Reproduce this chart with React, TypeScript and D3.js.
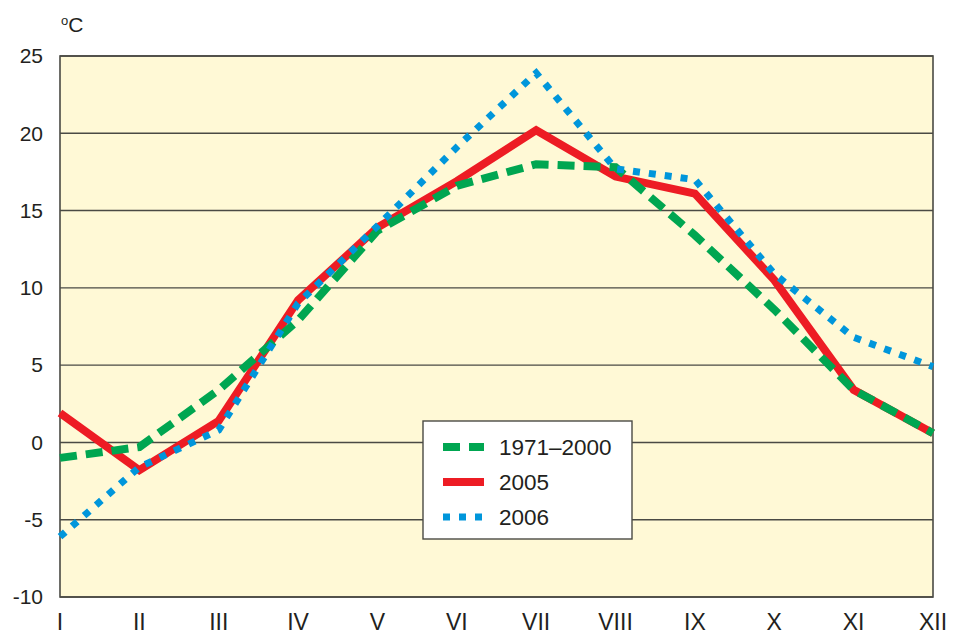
import React from "react";
import * as d3 from "d3";

const months = ["I", "II", "III", "IV", "V", "VI", "VII", "VIII", "IX", "X", "XI", "XII"];
const normal = [-1.0, -0.3, 3.4, 7.9, 13.7, 16.6, 18.0, 17.8, 13.4, 8.6, 3.4, 0.6];
const y2005 = [1.9, -1.8, 1.4, 9.2, 13.9, 16.9, 20.2, 17.2, 16.1, 10.5, 3.4, 0.6];
const y2006 = [-6.1, -1.6, 0.8, 9.0, 14.0, 19.1, 23.9, 17.7, 17.0, 10.9, 6.8, 4.9];
const yTicks = [25, 20, 15, 10, 5, 0, -5, -10];
const seriesNames = ["1971–2000", "2005", "2006"];

const W = 953;
const H = 635;
const left = 60;
const right = 933;
const top = 56;
const bottom = 597;

const font = "'Liberation Sans', Arial, sans-serif";

export default function App() {
  const x = d3.scalePoint<string>().domain(months).range([left, right]);
  const y = d3.scaleLinear().domain([-10, 25]).range([bottom, top]);

  const line = d3
    .line<number>()
    .x((_, i) => x(months[i]) as number)
    .y((d) => y(d));

  // red first, then green dashes, then blue dots on top
  const series = [
    { name: seriesNames[1], data: y2005, color: "#ed1c24", width: 8, dash: "none" },
    { name: seriesNames[0], data: normal, color: "#00a651", width: 8, dash: "17 9" },
    { name: seriesNames[2], data: y2006, color: "#0096db", width: 7, dash: "7 9" },
  ];
  const legendOrder = [series[1], series[0], series[2]];

  return (
    <div style={{ position: "absolute", left: 0, top: 0 }}>
      <svg width={W} height={H} style={{ display: "block", fontFamily: font }}>
        <rect x={0} y={0} width={W} height={H} fill="#ffffff" />
        <rect x={left} y={top} width={right - left} height={bottom - top} fill="#fff9d6" />

        {yTicks.map((t) => (
          <g key={t}>
            <line x1={left} x2={right} y1={y(t)} y2={y(t)} stroke="#4a4a44" strokeWidth={1.4} />
            <text x={43} y={y(t)} dy="0.35em" textAnchor="end" fontSize={21} fill="#231f20">
              {t}
            </text>
          </g>
        ))}

        <rect
          x={left}
          y={top}
          width={right - left}
          height={bottom - top}
          fill="none"
          stroke="#4a4a44"
          strokeWidth={1.6}
        />

        <text x={61} y={32} fontSize={21} fill="#231f20">
          <tspan fontSize={13} dy={-7}>o</tspan>
          <tspan dy={7}>C</tspan>
        </text>

        {months.map((m) => (
          <text
            key={m}
            x={x(m) as number}
            y={630}
            textAnchor="middle"
            fontSize={23}
            fill="#231f20"
          >
            {m}
          </text>
        ))}

        {series.map((s) => (
          <path
            key={s.name}
            d={line(s.data) || ""}
            fill="none"
            stroke={s.color}
            strokeWidth={s.width}
            strokeDasharray={s.dash}
            strokeLinejoin="miter"
          />
        ))}

        <g>
          <rect x={423} y={421} width={209} height={118} fill="#ffffff" stroke="#4a4a44" strokeWidth={1.4} />
          {legendOrder.map((s, i) => {
            const ly = 447 + i * 35;
            return (
              <g key={s.name}>
                <line
                  x1={443}
                  x2={484}
                  y1={ly}
                  y2={ly}
                  stroke={s.color}
                  strokeWidth={s.width}
                  strokeDasharray={s.dash}
                />
                <text x={499} y={ly} dy="0.36em" fontSize={22.5} fill="#231f20">
                  {s.name}
                </text>
              </g>
            );
          })}
        </g>
      </svg>
    </div>
  );
}
